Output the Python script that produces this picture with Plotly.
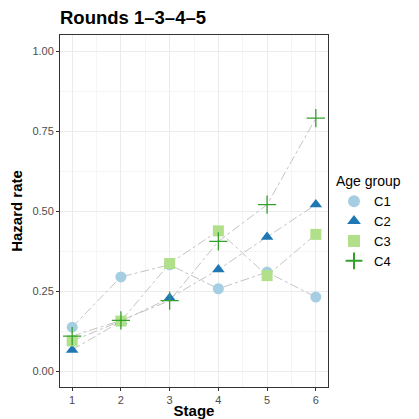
import plotly.graph_objects as go

stages = [1, 2, 3, 4, 5, 6]
groups = ["C1", "C2", "C3", "C4"]
c1 = [0.137, 0.294, 0.332, 0.257, 0.309, 0.231]
c2 = [0.066, 0.155, 0.228, 0.317, 0.419, 0.520]
c3 = [0.094, 0.156, 0.336, 0.438, 0.298, 0.427]
c4 = [0.109, 0.158, 0.220, 0.405, 0.520, 0.790]
values = [c1, c2, c3, c4]
colors = ["#a6cee3", "#1f78b4", "#b2df8a", "#33a02c"]
symbols = ["circle", "triangle-up", "square", "cross-thin"]
y_ticks = [0.00, 0.25, 0.50, 0.75, 1.00]
y_tick_labels = ["0.00", "0.25", "0.50", "0.75", "1.00"]

fig = go.Figure()
for g, v in zip(groups, values):
    fig.add_trace(go.Scatter(x=stages, y=v, mode="lines", line=dict(color="#c4c4c4", width=1, dash="dashdot"),
                             showlegend=False, hoverinfo="skip"))
for g, v, c, s in zip(groups, values, colors, symbols):
    marker = dict(color=c, symbol=s, size=11)
    if s == "cross-thin":
        marker = dict(color=c, symbol=s, size=13, line=dict(color=c, width=1.3))
    fig.add_trace(go.Scatter(x=stages, y=v, mode="markers", name=g, marker=marker))

fig.update_layout(
    width=419, height=419,
    margin=dict(l=60, r=91, t=35, b=32, autoexpand=False),
    paper_bgcolor="white", plot_bgcolor="white",
    font=dict(family="Liberation Sans, Arial, sans-serif", color="black"),
    title=dict(text="<b>Rounds 1–3–4–5</b>", x=60/419, xanchor="left", y=1-18/419, yanchor="middle",
               font=dict(size=18.5, color="black"), automargin=False),
    legend=dict(title=dict(text="Age group", font=dict(size=14)), font=dict(size=13),
                xref="container", yref="container",
                x=334/419, xanchor="left", y=1-168/419, yanchor="top", tracegroupgap=0,
                itemsizing="constant", itemwidth=30),
    xaxis=dict(range=[0.75, 6.25], tickvals=stages, ticks="outside", ticklen=3, tickcolor="#333",
               tickfont=dict(size=11, color="#4d4d4d"), showgrid=True, gridcolor="#ebebeb",
               minor=dict(dtick=1, tick0=0.5, showgrid=True, gridcolor="#f5f5f5"),
               showline=True, linecolor="#333", mirror=True, zeroline=False, automargin=False,
               title=dict(text="<b>Stage</b>", font=dict(size=15), standoff=4)),
    yaxis=dict(range=[-0.05, 1.05], tickvals=y_ticks, ticktext=y_tick_labels, ticks="outside", ticklen=3,
               tickcolor="#333", tickfont=dict(size=11, color="#4d4d4d"), showgrid=True, gridcolor="#ebebeb",
               minor=dict(dtick=0.25, tick0=0.125, showgrid=True, gridcolor="#f5f5f5"),
               showline=True, linecolor="#333", mirror=True, zeroline=False, automargin=False,
               title=dict(text="<b>Hazard rate</b>", font=dict(size=15), standoff=6)),
)
fig.write_html("out.html", config={"displayModeBar": False},
               post_script="document.body.style.margin='0';")
